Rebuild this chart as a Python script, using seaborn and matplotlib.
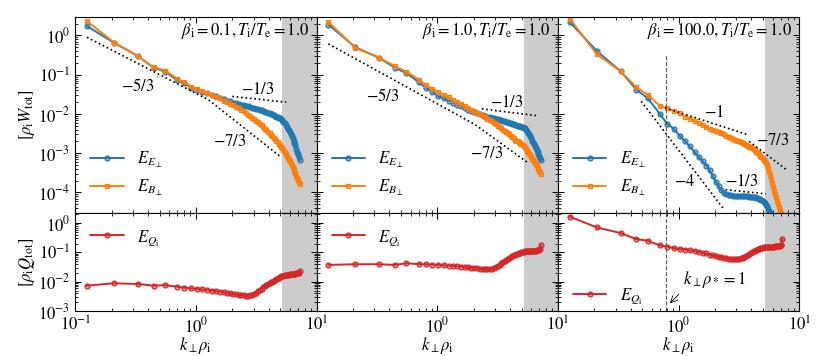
import matplotlib
matplotlib.use("Agg")
import matplotlib.pyplot as plt
import seaborn as sns

# wavenumber grid (k_perp rho_i)
k = [0.125, 0.21, 0.33, 0.445, 0.555, 0.70, 0.80, 0.91, 1.02, 1.13,
     1.24, 1.36, 1.47, 1.58, 1.70, 1.81, 1.92, 2.03, 2.15, 2.26,
     2.37, 2.49, 2.60, 2.71, 2.83, 2.94, 3.05, 3.16, 3.28, 3.39,
     3.50, 3.62, 3.73, 3.84, 3.96, 4.07, 4.18, 4.29, 4.41, 4.52,
     4.63, 4.75, 4.86, 4.97, 5.09, 5.20, 5.31, 5.42, 5.54, 5.65,
     5.76, 5.88, 5.99, 6.10, 6.22, 6.33, 6.44, 6.55, 6.67, 6.78,
     6.89, 7.01, 7.12, 7.23]

# beta_i = 0.1
ee_b01 = [1.73, 0.65, 0.30, 0.15, 0.12, 0.072, 0.060, 0.047, 0.042, 0.037,
          0.034, 0.030, 0.028, 0.026, 0.024, 0.022, 0.021, 0.0195, 0.0185, 0.0178,
          0.0171, 0.0165, 0.016, 0.0155, 0.0150, 0.0145, 0.0140, 0.0135, 0.0131, 0.0127,
          0.0123, 0.0119, 0.0115, 0.0112, 0.0109, 0.0106, 0.0102, 0.0098, 0.0094, 0.0090,
          0.0086, 0.0082, 0.0079, 0.0077, 0.0074, 0.0071, 0.0064, 0.0058, 0.0052, 0.0047,
          0.0042, 0.0038, 0.0034, 0.0030, 0.0027, 0.0024, 0.0021, 0.0018, 0.0016, 0.0013,
          0.0011, 0.00093, 0.00078, 0.00066]
eb_b01 = [2.3, 0.66, 0.30, 0.155, 0.128, 0.078, 0.064, 0.050, 0.043, 0.038,
          0.034, 0.030, 0.027, 0.025, 0.022, 0.020, 0.018, 0.0165, 0.015, 0.0140,
          0.0128, 0.0116, 0.0105, 0.0096, 0.0088, 0.0080, 0.0073, 0.0067, 0.0061, 0.0056,
          0.0051, 0.0046, 0.0042, 0.0038, 0.0035, 0.0032, 0.0029, 0.0027, 0.0025, 0.0023,
          0.0021, 0.0019, 0.00175, 0.0016, 0.00148, 0.00137, 0.00122, 0.00108, 0.00096, 0.00086,
          0.00077, 0.00069, 0.00062, 0.00055, 0.00049, 0.00044, 0.00039, 0.00035, 0.00031, 0.00027,
          0.00024, 0.00021, 0.00018, 0.00016]
q_b01 = [0.0074, 0.0089, 0.0084, 0.0074, 0.0077, 0.0068, 0.0063, 0.0060, 0.0057, 0.0055,
         0.0052, 0.0050, 0.0048, 0.0046, 0.0044, 0.0042, 0.0040, 0.0038, 0.0037, 0.0036,
         0.0035, 0.0035, 0.0034, 0.0034, 0.0035, 0.0036, 0.0039, 0.0043, 0.0048, 0.0053,
         0.0059, 0.0065, 0.0070, 0.0076, 0.0082, 0.0088, 0.0095, 0.0102, 0.0110, 0.0117,
         0.0124, 0.0131, 0.0138, 0.0145, 0.0152, 0.0158, 0.0163, 0.0167, 0.0170, 0.0172,
         0.0174, 0.0176, 0.0178, 0.0180, 0.0182, 0.0184, 0.0186, 0.0188, 0.0190, 0.0192,
         0.0195, 0.0198, 0.0205, 0.0235]

# beta_i = 1.0
ee_b1 = [1.9, 0.50, 0.27, 0.15, 0.11, 0.065, 0.047, 0.036, 0.028, 0.025,
         0.022, 0.019, 0.017, 0.0155, 0.014, 0.0128, 0.0118, 0.0110, 0.0103, 0.0097,
         0.0092, 0.0088, 0.0085, 0.0082, 0.0080, 0.0078, 0.0076, 0.0074, 0.0072, 0.0070,
         0.0068, 0.0066, 0.0064, 0.0062, 0.0060, 0.0058, 0.0056, 0.0054, 0.0052, 0.0051,
         0.0050, 0.0049, 0.0048, 0.0047, 0.0046, 0.0045, 0.0043, 0.0040, 0.0036, 0.0033,
         0.0030, 0.0027, 0.0024, 0.0021, 0.0019, 0.0017, 0.0015, 0.00135, 0.0012, 0.00106,
         0.00095, 0.00085, 0.00075, 0.00068]
eb_b1 = [2.2, 0.48, 0.27, 0.165, 0.12, 0.075, 0.055, 0.044, 0.036, 0.031,
         0.027, 0.023, 0.020, 0.018, 0.0158, 0.0142, 0.0128, 0.0116, 0.0106, 0.0097,
         0.0089, 0.0082, 0.0076, 0.0070, 0.0065, 0.0060, 0.0055, 0.0050, 0.0046, 0.0043,
         0.0040, 0.0037, 0.0034, 0.0032, 0.0030, 0.0028, 0.0026, 0.0024, 0.0022, 0.0021,
         0.0020, 0.0019, 0.0018, 0.0017, 0.0016, 0.0015, 0.0014, 0.00128, 0.00117, 0.00107,
         0.00098, 0.0009, 0.00082, 0.00075, 0.00068, 0.00062, 0.00057, 0.00052, 0.00047, 0.00043,
         0.00039, 0.00036, 0.00033, 0.0003]
q_b1 = [0.0376, 0.0395, 0.0395, 0.0376, 0.0427, 0.0400, 0.0395, 0.0385, 0.0376, 0.0367,
        0.0355, 0.0347, 0.0338, 0.0330, 0.0320, 0.0310, 0.0300, 0.0292, 0.0284, 0.0278,
        0.0274, 0.0271, 0.0270, 0.0271, 0.0276, 0.0290, 0.0315, 0.0345, 0.0380, 0.0420,
        0.0465, 0.0510, 0.0555, 0.0600, 0.0650, 0.0700, 0.0750, 0.0790, 0.0830, 0.0870,
        0.0910, 0.0950, 0.0985, 0.1020, 0.1045, 0.1070, 0.1085, 0.1095, 0.1100, 0.1105,
        0.1110, 0.1115, 0.1120, 0.1125, 0.1130, 0.1140, 0.1150, 0.1160, 0.1170, 0.1185,
        0.1200, 0.1230, 0.1300, 0.1740]

# beta_i = 100.0
ee_b100 = [2.2, 0.40, 0.123, 0.042, 0.025, 0.010, 0.0057, 0.0042, 0.0028, 0.0020,
           0.0015, 0.00105, 0.00080, 0.00063, 0.00048, 0.00037, 0.00026, 0.00019, 0.000145, 0.000113,
           0.000098, 0.000090, 0.000086, 0.000084, 0.000083, 0.000082, 0.000081, 0.000081, 0.00008, 0.00008,
           0.00008, 0.000079, 0.000079, 0.000078, 0.000078, 0.000077, 0.000076, 0.000075, 0.000074, 0.000072,
           0.00007, 0.000068, 0.000065, 0.000062, 0.000058, 0.000054, 0.000049, 0.000044, 0.000039, 0.000034,
           0.00003, 0.000026, 0.000022, 0.000019, 0.000016, 0.000014, 0.000012, 0.00001, 0.0000088, 0.0000075,
           0.0000065, 0.0000056, 0.0000048, 0.0000042]
eb_b100 = [2.7, 0.33, 0.123, 0.048, 0.031, 0.016, 0.0144, 0.0120, 0.0103, 0.0086,
           0.0076, 0.0066, 0.0058, 0.0052, 0.0046, 0.0042, 0.0038, 0.0036, 0.0034, 0.0032,
           0.0030, 0.0028, 0.0026, 0.0025, 0.0023, 0.0022, 0.0021, 0.0020, 0.0019, 0.0018,
           0.0017, 0.0016, 0.00155, 0.00148, 0.0014, 0.00133, 0.00126, 0.00118, 0.0011, 0.00102,
           0.00094, 0.00086, 0.00080, 0.00076, 0.00068, 0.00062, 0.00057, 0.00049, 0.00041, 0.00033,
           0.00028, 0.00022, 0.000175, 0.00014, 0.00011, 0.00009, 0.000075, 0.000062, 0.000052, 0.000043,
           0.000036, 0.00003, 0.000025, 0.000021]
q_b100 = [1.66, 0.71, 0.457, 0.285, 0.25, 0.173, 0.159, 0.140, 0.130, 0.125,
          0.117, 0.111, 0.104, 0.098, 0.092, 0.084, 0.079, 0.076, 0.072, 0.069,
          0.066, 0.064, 0.062, 0.060, 0.059, 0.059, 0.060, 0.062, 0.063, 0.067,
          0.071, 0.077, 0.083, 0.090, 0.097, 0.104, 0.110, 0.116, 0.122, 0.128,
          0.133, 0.138, 0.142, 0.146, 0.149, 0.151, 0.153, 0.154, 0.155, 0.155,
          0.156, 0.156, 0.157, 0.158, 0.159, 0.160, 0.161, 0.163, 0.165, 0.167,
          0.170, 0.173, 0.180, 0.285]

# guide lines (k, y pairs) and their slope labels
guides_b01 = [([0.125, 1.27, 4.98], [0.9, 0.023, 8.3e-4]),
              ([2.0, 5.6], [0.028, 0.020])]
labels_b01 = [(r"$-5/3$", 0.33, 0.05), (r"$-1/3$", 3.26, 0.042), (r"$-7/3$", 1.92, 0.0019)]
guides_b1 = [([0.125, 2.05, 5.52], [0.61, 0.0054, 6.0e-4]),
             ([2.34, 6.6], [0.0135, 0.0091])]
labels_b1 = [(r"$-5/3$", 0.353, 0.028), (r"$-1/3$", 3.79, 0.0185), (r"$-7/3$", 2.57, 9.8e-4)]
guides_b100 = [([0.77, 3.69], [0.0143, 0.003]),
               ([3.84, 7.83], [0.002, 3.8e-4]),
               ([0.49, 2.33], [0.021, 4.0e-5]),
               ([2.45, 5.27], [1.18e-4, 9.2e-5])]
labels_b100 = [(r"$-1$", 1.97, 0.0107), (r"$-7/3$", 6.0, 0.002),
               (r"$-4$", 1.12, 1.9e-4), (r"$-1/3$", 3.36, 1.9e-4)]

titles = [r"$\beta_{\rm i} = 0.1, T_{\rm i}/T_{\rm e} = 1.0$",
          r"$\beta_{\rm i} = 1.0, T_{\rm i}/T_{\rm e} = 1.0$",
          r"$\beta_{\rm i} = 100.0, T_{\rm i}/T_{\rm e} = 1.0$"]

k_star = 0.787          # k_perp rho_* = 1
k_star_top = 0.31
dealias_k = 5.2

sns.set_theme(style="ticks")
plt.rcParams.update({
    "font.size": 12,
    "mathtext.fontset": "stix",
    "axes.edgecolor": "black",
    "axes.linewidth": 0.8,
    "text.color": "black",
    "axes.labelcolor": "black",
    "xtick.color": "black",
    "ytick.color": "black",
    "xtick.labelsize": 12,
    "ytick.labelsize": 12,
    "xtick.direction": "in",
    "ytick.direction": "in",
    "xtick.top": True,
    "ytick.right": True,
    "xtick.major.size": 4,
    "ytick.major.size": 4,
    "xtick.minor.size": 2,
    "ytick.minor.size": 2,
    "xtick.major.width": 0.7,
    "ytick.major.width": 0.7,
    "xtick.minor.width": 0.6,
    "ytick.minor.width": 0.6,
    "legend.fontsize": 12,
})
plt.rcParams["font.family"] = ["STIXGeneral", "DejaVu Sans"]

C_E = "#1f77b4"
C_B = "#ff7f0e"
C_Q = "#d62728"

fig = plt.figure(figsize=(8.3, 3.56), dpi=100)
gs = fig.add_gridspec(2, 3, height_ratios=[2, 1], hspace=0, wspace=0,
                      left=0.0907, right=0.963, top=0.953, bottom=0.126)


def curve(ax, y, color, marker, label):
    sns.lineplot(x=k, y=y, ax=ax, color=color, marker=marker, markersize=3.5,
                 markerfacecolor=(color, 0.45), markeredgecolor=color,
                 markeredgewidth=0.9, linewidth=1.4, label=label)


panels = [
    (ee_b01, eb_b01, q_b01, guides_b01, labels_b01),
    (ee_b1, eb_b1, q_b1, guides_b1, labels_b1),
    (ee_b100, eb_b100, q_b100, guides_b100, labels_b100),
]

for i, (ee, eb, qq, guides, glabels) in enumerate(panels):
    ax = fig.add_subplot(gs[0, i])
    axq = fig.add_subplot(gs[1, i])

    # energy spectra
    ax.axvspan(dealias_k, 10, color="0.8", lw=0, zorder=0)
    curve(ax, ee, C_E, "o", r"$E_{E_\perp}$")
    curve(ax, eb, C_B, "s", r"$E_{B_\perp}$")
    for gx, gy in guides:
        ax.plot(gx, gy, ls=":", color="black", lw=1.2)
    for txt, tx, ty in glabels:
        ax.text(tx, ty, txt, ha="center", va="center", fontsize=12)
    ax.text(0.97, 0.925, titles[i], transform=ax.transAxes, ha="right", va="center", fontsize=12)
    ax.set_xscale("log")
    ax.set_yscale("log")
    ax.set_xlim(0.1, 10)
    ax.set_ylim(3e-5, 3)
    ax.legend(loc="lower left", frameon=False, handlelength=2.0)
    ax.tick_params(which="both", labelbottom=False)
    ax.set_xlabel("")

    # heat flux spectra
    axq.axvspan(dealias_k, 10, color="0.8", lw=0, zorder=0)
    curve(axq, qq, C_Q, "o", r"$E_{Q_{\rm i}}$")
    axq.set_xscale("log")
    axq.set_yscale("log")
    axq.set_xlim(0.1, 10)
    axq.set_ylim(1e-3, 2.2)
    axq.set_xlabel(r"$k_\perp \rho_{\rm i}$", fontsize=12, labelpad=-1)
    axq.set_xticks([0.1, 1, 10])
    if i == 0:
        axq.set_xticklabels([r"$10^{-1}$", r"$10^{0}$", r"$10^{1}$"])
        ax.set_ylabel(r"$[\rho_{\rm i} W_{\rm tot}]$", fontsize=12, labelpad=1)
        axq.set_ylabel(r"$[\rho_{\rm i} Q_{\rm tot}]$", fontsize=12, labelpad=1)
    else:
        axq.set_xticklabels(["", r"$10^{0}$", r"$10^{1}$"])
        ax.tick_params(which="both", labelleft=False)
        axq.tick_params(which="both", labelleft=False)
        ax.set_ylabel("")
        axq.set_ylabel("")

    if i == 2:
        axq.legend(loc="lower left", frameon=False, bbox_to_anchor=(0.0, -0.1))
        ax.plot([k_star, k_star], [3e-5, k_star_top], ls="--", color="0.35", lw=0.8)
        axq.axvline(k_star, ls="--", color="0.35", lw=0.8)
        axq.annotate(r"$k_\perp \rho_* = 1$", xy=(0.83, 1.7e-3), xytext=(1.98, 0.012),
                     ha="center", va="center", fontsize=12,
                     arrowprops=dict(arrowstyle="->", color="black", lw=0.6,
                                     relpos=(0.0, 0.0), shrinkA=1, shrinkB=1))
    else:
        axq.legend(loc="upper left", frameon=False)

fig.align_ylabels()
fig.savefig("out.png", dpi=100)
